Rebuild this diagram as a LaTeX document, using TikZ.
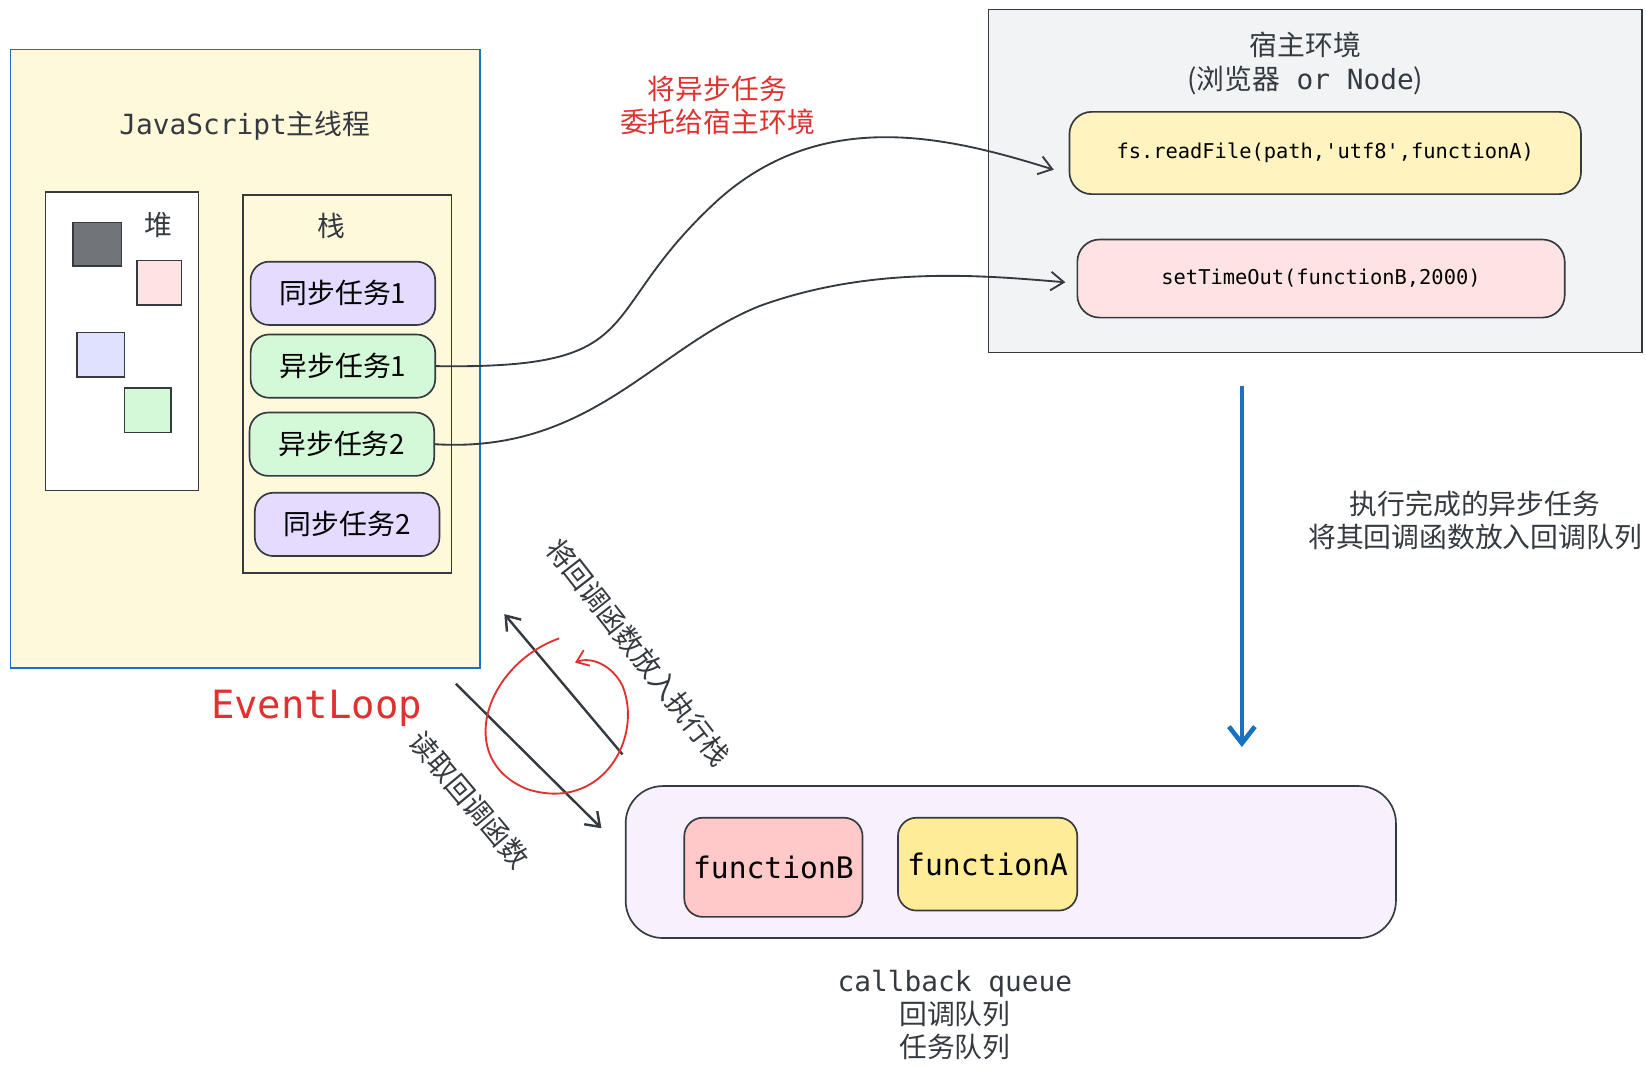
\documentclass[tikz,border=0pt]{standalone}
\usepackage{fontspec}
\setmainfont{Noto Sans CJK SC}
\newfontfamily\monof{DejaVu Sans Mono}
\usetikzlibrary{positioning,calc,arrows.meta}

\definecolor{inkgray}{HTML}{343A40}
\definecolor{mainbg}{HTML}{FFF9DB}
\definecolor{mainline}{HTML}{1971C2}
\definecolor{hostbg}{HTML}{F1F3F5}
\definecolor{yelbg}{HTML}{FFF3BF}
\definecolor{pinkbg}{HTML}{FFE3E3}
\definecolor{purbg}{HTML}{E5DBFF}
\definecolor{grnbg}{HTML}{D3F9D8}
\definecolor{quebg}{HTML}{F8F0FC}
\definecolor{fnpink}{HTML}{FFC9C9}
\definecolor{fnyel}{HTML}{FFEC99}
\definecolor{redtxt}{HTML}{E03131}

\tikzset{
  box/.style={draw=inkgray, line width=0.9pt},
  task/.style={box, rounded corners=10pt, minimum width=3.5cm, minimum height=1.2cm, font=\fontsize{15}{15}\selectfont},
  code/.style={box, rounded corners=12pt, font=\monof\fontsize{11}{11}\selectfont},
  lbl/.style={align=center, text=inkgray, font=\fontsize{15}{18}\selectfont},
  link/.style={draw=inkgray, line width=1pt, -{Straight Barb[length=7pt,width=10pt]}},
}

\begin{document}
\begin{tikzpicture}[x=0.02cm, y=-0.02cm]
\useasboundingbox (0,0) rectangle (1560,1014);

% main thread
\draw[fill=mainbg, draw=mainline, line width=0.9pt] (10,47) rectangle (455,633);
\node[lbl, font=\monof\fontsize{15}{15}\selectfont] (title) at (232,119) {JavaScript\fontspec{Noto Sans CJK SC}主线程};

% heap
\draw[box, fill=white] (43,182) rectangle (188,465);
\node[lbl] (heap) at (150,213) {堆};
\draw[box, fill=inkgray!70] (69,211) rectangle (115,252);
\draw[box, fill=pinkbg] (130,247) rectangle (172,289);
\draw[box, fill=blue!12] (73,315) rectangle (118,357);
\draw[box, fill=grnbg] (118,368) rectangle (162,410);

% stack
\draw[box, fill=mainbg] (230,185) rectangle (428,543);
\node[lbl] (stack) at (314,214) {栈};
\node[task, fill=purbg] (s1) at (325,278) {同步任务1};
\node[task, fill=grnbg] (a1) at (325,347) {异步任务1};
\node[task, fill=grnbg] (a2) at (324,421) {异步任务2};
\node[task, fill=purbg] (s2) at (329,497) {同步任务2};

% host
\draw[box, fill=hostbg] (937,9) rectangle (1556,334);
\node[lbl] (host) at (1237,60) {宿主环境\\(浏览器{\monof\ or Node})};
\node[code, fill=yelbg, minimum width=9.7cm, minimum height=1.56cm] (fs) at (1256,145) {fs.readFile(path,'utf8',functionA)};
\node[code, fill=pinkbg, minimum width=9.24cm, minimum height=1.48cm] (st) at (1252,264) {setTimeOut(functionB,2000)};

\node[lbl, text=redtxt] (delegate) at (680,100) {将异步任务\\委托给宿主环境};

\draw[link] (a1.east) .. controls (620,350) and (560,300) .. (680,190)
  .. controls (780,100) and (900,130) .. ([xshift=-8pt,yshift=-9pt]fs.west);
\draw[link] (a2.east) .. controls (560,430) and (620,330) .. (720,290)
  .. controls (830,250) and (940,262) .. ([xshift=-6pt,yshift=-2pt]st.west);

% done
\coordinate (dtop) at (1177,366);
\coordinate (dbot) at (1177,708);
\draw[draw=mainline, line width=2.5pt, -{Straight Barb[length=9pt,width=14pt]}] (dtop) -- (dbot);
\node[lbl] (done) at (1398,493) {执行完成的异步任务\\将其回调函数放入回调队列};

% queue
\draw[box, fill=quebg, rounded corners=20pt] (593,745) rectangle (1323,889);
\node[task, fill=fnpink, minimum width=3.38cm, minimum height=1.88cm, font=\monof\fontsize{16}{16}\selectfont] (fb) at (733,822) {functionB};
\node[task, fill=fnyel, minimum width=3.4cm, minimum height=1.76cm, font=\monof\fontsize{16}{16}\selectfont] (fa) at (936,819) {functionA};
\node[lbl] (queue) at (905,962) {{\monof callback queue}\\回调队列\\任务队列};

% event loop
\node[text=redtxt, font=\monof\fontsize{21}{21}\selectfont] (loop) at (300,671) {EventLoop};
\coordinate (pushA) at (590,715);
\coordinate (pushB) at (478,582);
\coordinate (readA) at (432,648);
\coordinate (readB) at (570,785);
\draw[link, line width=1.3pt] (pushA) -- (pushB);
\draw[link, line width=1.3pt] (readA) -- (readB);
\draw[redtxt, line width=1pt, -{Straight Barb[length=6pt,width=9pt]}]
  (530,605) .. controls (460,630) and (430,720) .. (500,748)
  .. controls (570,770) and (610,700) .. (590,650)
  .. controls (580,630) and (560,622) .. (545,628);
\node[lbl, rotate=-52] (pushtxt) at (605,618) {将回调函数放入执行栈};
\node[lbl, rotate=-50] (readtxt) at (445,758) {读取回调函数};
\end{tikzpicture}
\end{document}
